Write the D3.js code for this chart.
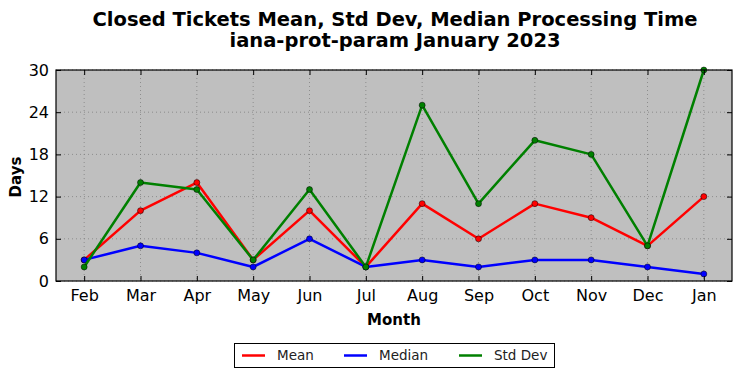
<!DOCTYPE html>
<html><head><meta charset="utf-8">
<script src="https://cdn.jsdelivr.net/npm/d3@7"></script>
<style>body{margin:0;background:#fff;} text{font-family:"DejaVu Sans",sans-serif;}</style>
</head><body>
<svg id="c" width="742" height="378"></svg>
<script>
const months = ["Feb","Mar","Apr","May","Jun","Jul","Aug","Sep","Oct","Nov","Dec","Jan"];
const meanVals = [3,10,14,3,10,2,11,6,11,9,5,12];
const medianVals = [3,5,4,2,6,2,3,2,3,3,2,1];
const stdVals = [2,14,13,3,13,2,25,11,20,18,5,30];
const yTicks = [0,6,12,18,24,30];
const seriesNames = ["Mean","Median","Std Dev"];
const seriesColors = ["#ff0000","#0000ff","#008000"];

const svg = d3.select("#c");
const L=56,R=732,T=70,B=281;
const x = d3.scaleLinear().domain([-0.5,11.5]).range([L,R]);
const y = d3.scaleLinear().domain([0,30]).range([B,T]);

svg.append("rect").attr("x",L).attr("y",T).attr("width",R-L).attr("height",B-T).attr("fill","#bfbfbf");

// grid
const g = svg.append("g");
months.forEach((m,i)=>{
  g.append("line").attr("x1",x(i)).attr("x2",x(i)).attr("y1",T).attr("y2",B)
   .attr("stroke","#808080").attr("stroke-width",0.8).attr("stroke-dasharray","1,3");
});
yTicks.forEach(v=>{
  g.append("line").attr("x1",L).attr("x2",R).attr("y1",y(v)).attr("y2",y(v))
   .attr("stroke","#808080").attr("stroke-width",0.8).attr("stroke-dasharray","1,3");
});

const data = [meanVals, medianVals, stdVals];
const line = d3.line().x((d,i)=>x(i)).y(d=>y(d));
data.forEach((vals,k)=>{
  svg.append("path").datum(vals).attr("d",line).attr("fill","none")
    .attr("stroke",seriesColors[k]).attr("stroke-width",2.5).attr("stroke-linejoin","round");
  svg.selectAll(null).data(vals).enter().append("circle")
    .attr("cx",(d,i)=>x(i)).attr("cy",d=>y(d)).attr("r",3)
    .attr("fill",seriesColors[k]).attr("stroke","#000").attr("stroke-width",0.5);
});

// frame
svg.append("rect").attr("x",L).attr("y",T).attr("width",R-L).attr("height",B-T)
  .attr("fill","none").attr("stroke","#000").attr("stroke-width",1.2);

// axes with inward ticks
const xAxis = d3.axisBottom(x).tickValues(d3.range(12)).tickFormat(i=>months[i]).tickSizeInner(-5).tickSizeOuter(0).tickPadding(9);
const ax = svg.append("g").attr("transform",`translate(0,${B})`).call(xAxis);
const yAxis = d3.axisLeft(y).tickValues(yTicks).tickSizeInner(-5).tickSizeOuter(0).tickPadding(7);
const ay = svg.append("g").attr("transform",`translate(${L},0)`).call(yAxis);
// top and right ticks
const xTop = d3.axisTop(x).tickValues(d3.range(12)).tickFormat("").tickSizeInner(-5).tickSizeOuter(0);
const at = svg.append("g").attr("transform",`translate(0,${T})`).call(xTop);
const yRight = d3.axisRight(y).tickValues(yTicks).tickFormat("").tickSizeInner(-5).tickSizeOuter(0);
const ar = svg.append("g").attr("transform",`translate(${R},0)`).call(yRight);
[ax,ay,at,ar].forEach(a=>{
  a.select(".domain").remove();
  a.selectAll("text").attr("font-family","DejaVu Sans").attr("font-size",16).attr("fill","#000");
  a.selectAll("line").attr("stroke","#000");
});

// titles
svg.append("text").attr("x",395).attr("y",26).attr("text-anchor","middle")
  .attr("font-size",19.5).attr("font-weight","bold").text("Closed Tickets Mean, Std Dev, Median Processing Time");
svg.append("text").attr("x",395).attr("y",47).attr("text-anchor","middle")
  .attr("font-size",19.5).attr("font-weight","bold").text("iana-prot-param January 2023");
svg.append("text").attr("x",394).attr("y",325).attr("text-anchor","middle")
  .attr("font-size",15).attr("font-weight","bold").text("Month");
svg.append("text").attr("transform","translate(21,177) rotate(-90)").attr("text-anchor","middle")
  .attr("font-size",15).attr("font-weight","bold").text("Days");

// legend
const lg = svg.append("g");
lg.append("rect").attr("x",234.5).attr("y",343.5).attr("width",320).attr("height",24)
  .attr("fill","#fff").attr("stroke","#000").attr("stroke-width",1);
const lx = [242,344,459];
seriesNames.forEach((n,k)=>{
  lg.append("line").attr("x1",lx[k]).attr("x2",lx[k]+23).attr("y1",355.5).attr("y2",355.5)
    .attr("stroke",seriesColors[k]).attr("stroke-width",2.5);
  lg.append("text").attr("x",lx[k]+35).attr("y",360).attr("font-size",13.5).attr("fill","#222").text(n);
});
</script>
</body></html>
